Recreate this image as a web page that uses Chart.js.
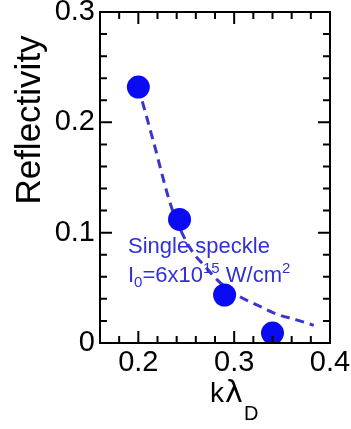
<!DOCTYPE html>
<html>
<head>
<meta charset="utf-8">
<script src="https://cdn.jsdelivr.net/npm/chart.js@4.4.1/dist/chart.umd.min.js"></script>
<style>
  html, body { margin: 0; padding: 0; background: #fff; }
  #wrap { width: 351px; height: 429px; }
</style>
</head>
<body>
<div id="wrap"><canvas id="chart" width="351" height="429"></canvas></div>
<script>
// measured points
const kLambda = [0.2, 0.243, 0.29, 0.34];
const reflectivity = [0.232, 0.112, 0.0435, 0.009];

// dashed fit curve
const fitX = [0.2, 0.215, 0.235, 0.254, 0.27, 0.285, 0.306, 0.325, 0.345, 0.365, 0.383];
const fitY = [0.232, 0.185, 0.122, 0.086, 0.069, 0.055, 0.042, 0.034, 0.026, 0.021, 0.016];

const xTickLabels = ["0.2", "0.3", "0.4"];
const yTickLabels = ["0", "0.1", "0.2", "0.3"];

const FONT = "'Liberation Sans', Arial, Helvetica, sans-serif";
const textBlue = '#3030d8';

const pts = kLambda.map((x, i) => ({ x: x, y: reflectivity[i] }));
const fit = fitX.map((x, i) => ({ x: x, y: fitY[i] }));

const fmt = v => String(Math.round(v * 100) / 100);

// frame, inside ticks, axis titles and the annotation
const decor = {
  id: 'decor',
  afterDraw(chart) {
    const ctx = chart.ctx;
    const a = chart.chartArea;
    const xs = chart.scales.x;
    const ys = chart.scales.y;
    ctx.save();
    ctx.strokeStyle = '#000';
    ctx.lineWidth = 2;
    ctx.strokeRect(a.left, a.top, a.right - a.left, a.bottom - a.top);

    ctx.beginPath();
    xs.ticks.forEach(t => {
      const px = xs.getPixelForValue(t.value);
      const len = xTickLabels.includes(fmt(t.value)) ? 12 : 7;
      ctx.moveTo(px, a.bottom); ctx.lineTo(px, a.bottom - len);
      ctx.moveTo(px, a.top); ctx.lineTo(px, a.top + len);
    });
    ys.ticks.forEach(t => {
      const py = ys.getPixelForValue(t.value);
      const len = yTickLabels.includes(fmt(t.value)) ? 12 : 7;
      ctx.moveTo(a.left, py); ctx.lineTo(a.left + len, py);
      ctx.moveTo(a.right, py); ctx.lineTo(a.right - len, py);
    });
    ctx.stroke();

    // y title
    ctx.fillStyle = '#000';
    ctx.save();
    ctx.translate(40, 120);
    ctx.rotate(-Math.PI / 2);
    ctx.font = '35px ' + FONT;
    ctx.textAlign = 'center';
    ctx.textBaseline = 'alphabetic';
    ctx.fillText('Reflectivity', 0, 0);
    ctx.restore();

    // x title k lambda_D
    ctx.textAlign = 'left';
    ctx.textBaseline = 'alphabetic';
    ctx.font = '28px ' + FONT;
    ctx.fillText('k', 210, 402);
    ctx.font = "30px 'DejaVu Sans', " + FONT;
    ctx.fillText('\u03bb', 225, 402);
    ctx.font = '20px ' + FONT;
    ctx.fillText('D', 244, 420);

    // annotation
    ctx.fillStyle = textBlue;
    ctx.font = '22px ' + FONT;
    ctx.fillText('Single speckle', 128, 253);
    let x = 128;
    const base = 282;
    const run = (txt, size, dy) => {
      ctx.font = size + 'px ' + FONT;
      ctx.fillText(txt, x, base + dy);
      x += ctx.measureText(txt).width;
    };
    run('I', 22, 0);
    run('0', 15, 5);
    run('=6x10', 22, 0);
    run('15', 15, -9);
    run(' W/cm', 22, 0);
    run('2', 15, -9);
    ctx.restore();
  }
};

new Chart(document.getElementById('chart'), {
  type: 'scatter',
  data: {
    datasets: [
      {
        data: pts,
        backgroundColor: '#0a0af5',
        borderWidth: 0,
        pointRadius: 11.5,
        pointHoverRadius: 11.5
      },
      {
        data: fit,
        showLine: true,
        borderColor: '#3a36cc',
        borderWidth: 3,
        borderDash: [9, 6],
        pointRadius: 0,
        tension: 0.4,
        cubicInterpolationMode: 'monotone'
      }
    ]
  },
  options: {
    responsive: false,
    animation: false,
    layout: { padding: { top: 12, right: 21, left: 0, bottom: 0 } },
    plugins: { legend: { display: false }, tooltip: { enabled: false } },
    scales: {
      x: {
        type: 'linear',
        min: 0.16,
        max: 0.4,
        border: { display: false },
        grid: { display: false, drawTicks: false },
        ticks: {
          stepSize: 0.02,
          autoSkip: false,
          maxRotation: 0,
          padding: 3,
          color: '#000',
          font: { size: 29, family: FONT },
          callback: v => xTickLabels.includes(fmt(v)) ? fmt(v) : ''
        },
        afterFit(s) { s.height = 86; s.paddingLeft = 0; s.paddingRight = 0; }
      },
      y: {
        min: 0,
        max: 0.3,
        border: { display: false },
        grid: { display: false, drawTicks: false },
        ticks: {
          stepSize: 0.02,
          autoSkip: false,
          padding: 5,
          color: '#000',
          font: { size: 29, family: FONT },
          callback: v => yTickLabels.includes(fmt(v)) ? fmt(v) : ''
        },
        afterFit(s) { s.width = 100; s.paddingTop = 0; s.paddingBottom = 0; }
      }
    }
  },
  plugins: [decor]
});
</script>
</body>
</html>
